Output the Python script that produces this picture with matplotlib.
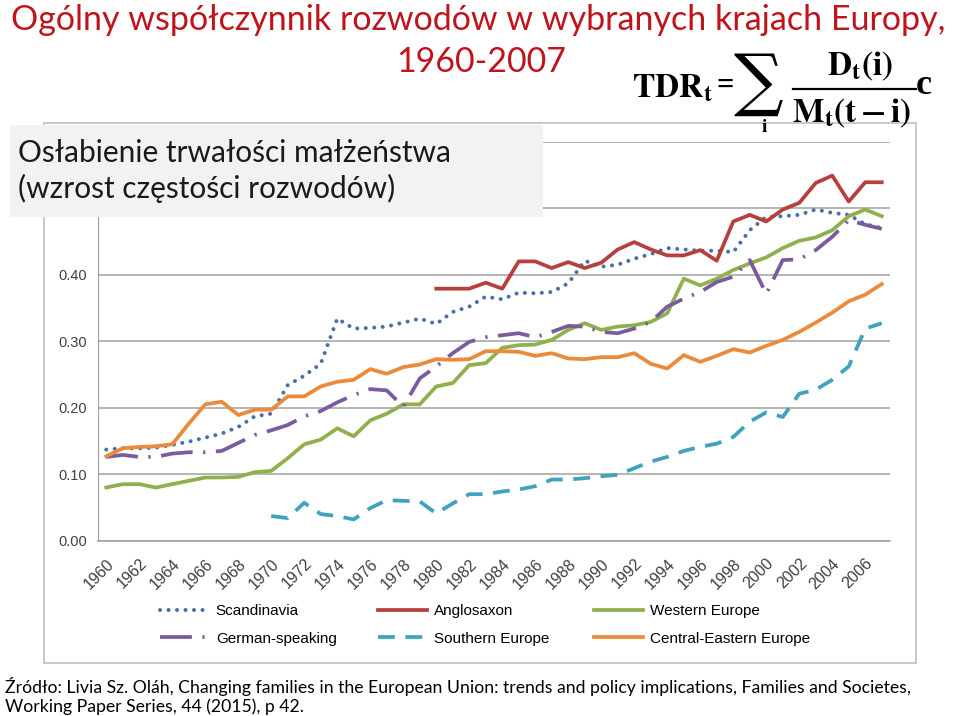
import numpy as np
import matplotlib
matplotlib.use('Agg')
import matplotlib.pyplot as plt
from matplotlib.patches import Rectangle
from matplotlib.lines import Line2D

nan = np.nan
years = list(range(1960, 2008))

scandinavia = [0.137, 0.139, 0.139, 0.140, 0.144, 0.149, 0.155, 0.161, 0.171, 0.187,
               0.191, 0.234, 0.248, 0.266, 0.334, 0.319, 0.320, 0.322, 0.328, 0.334,
               0.326, 0.344, 0.352, 0.367, 0.363, 0.373, 0.372, 0.374, 0.387, 0.421,
               0.412, 0.415, 0.424, 0.431, 0.440, 0.438, 0.436, 0.436, 0.434, 0.467,
               0.487, 0.488, 0.490, 0.498, 0.493, 0.490, 0.476, 0.470]
anglosaxon = [nan] * 20 + [
               0.379, 0.379, 0.379, 0.388, 0.379, 0.420, 0.420, 0.410, 0.419, 0.410,
               0.418, 0.438, 0.449, 0.438, 0.429, 0.429, 0.437, 0.421, 0.480, 0.490,
               0.480, 0.498, 0.508, 0.538, 0.549, 0.510, 0.539, 0.539]
western = [0.080, 0.085, 0.085, 0.080, 0.085, 0.090, 0.095, 0.095, 0.096, 0.103,
           0.105, 0.124, 0.145, 0.152, 0.169, 0.157, 0.181, 0.191, 0.205, 0.205,
           0.232, 0.237, 0.264, 0.267, 0.290, 0.294, 0.295, 0.302, 0.317, 0.327,
           0.317, 0.322, 0.324, 0.329, 0.342, 0.394, 0.384, 0.394, 0.407, 0.417,
           0.426, 0.440, 0.451, 0.456, 0.467, 0.488, 0.498, 0.488]
german = [0.126, 0.129, 0.126, 0.126, 0.131, 0.133, 0.133, 0.135, 0.147, 0.159,
          0.166, 0.174, 0.187, 0.195, 0.208, 0.219, 0.228, 0.226, 0.2015, 0.244,
          0.262, 0.282, 0.299, 0.306, 0.309, 0.312, 0.306, 0.314, 0.323, 0.322,
          0.314, 0.312, 0.319, 0.329, 0.352, 0.364, 0.374, 0.389, 0.397, 0.422,
          0.371, 0.422, 0.423, 0.437, 0.457, 0.482, 0.475, 0.469]
southern = [nan] * 10 + [
            0.037, 0.034, 0.057, 0.040, 0.037, 0.032, 0.049, 0.061, 0.060, 0.059,
            0.041, 0.056, 0.070, 0.070, 0.074, 0.077, 0.082, 0.092, 0.092, 0.094,
            0.097, 0.099, 0.109, 0.119, 0.126, 0.135, 0.141, 0.146, 0.156, 0.179,
            0.193, 0.186, 0.221, 0.227, 0.242, 0.262, 0.319, 0.327]
central_east = [0.127, 0.139, 0.141, 0.142, 0.145, 0.176, 0.205, 0.209, 0.189, 0.197,
                0.197, 0.217, 0.217, 0.232, 0.239, 0.242, 0.258, 0.251, 0.261, 0.265,
                0.273, 0.272, 0.273, 0.285, 0.285, 0.284, 0.278, 0.282, 0.274, 0.273,
                0.276, 0.276, 0.282, 0.266, 0.259, 0.279, 0.269, 0.278, 0.288, 0.283,
                0.293, 0.302, 0.314, 0.328, 0.343, 0.360, 0.370, 0.386]

yticks = [0.0, 0.1, 0.2, 0.3, 0.4, 0.5, 0.6]
# 0.50 and 0.60 labels sit under the grey text box in the original
ylabels = ['0.00', '0.10', '0.20', '0.30', '0.40', '', '']

title = 'Ogólny współczynnik rozwodów w wybranych krajach Europy,'
title2 = '1960-2007'
boxtext = 'Osłabienie trwałości małżeństwa\n(wzrost częstości rozwodów)'
source = ('Źródło: Livia Sz. Oláh, Changing families in the European Union: trends and policy implications, Families and Societes,\n'
          'Working Paper Series, 44 (2015), p 42.')

plt.rcParams['font.family'] = ['Liberation Sans', 'DejaVu Sans']
plt.rcParams['mathtext.fontset'] = 'stix'

fig = plt.figure(figsize=(9.6, 7.16), dpi=100)
W, H = 960, 716

def fx(px):
    return px / W

def fy(py):
    return 1 - py / H

# chart frame
fig.patches.append(Rectangle((fx(44), fy(663)), fx(916) - fx(44), fy(123) - fy(663),
                             transform=fig.transFigure, fill=False, edgecolor='#bfbfbf', lw=1.2))

ax = fig.add_axes([fx(98), fy(540.7), fx(890) - fx(98), fy(141.7) - fy(540.7)])
x = np.arange(len(years))

lw = 2.7
ax.plot(x, scandinavia, color='#4a6eab', lw=2.9, linestyle=(0, (0.01, 2.1)),
        dash_capstyle='round', label='Scandinavia')
ax.plot(x, anglosaxon, color='#b5403c', lw=lw, label='Anglosaxon')
ax.plot(x, western, color='#8fb04c', lw=lw, label='Western Europe')
ax.plot(x, german, color='#7b5b9e', lw=lw, linestyle=(0, (8.5, 2.8, 0.6, 2.8)),
        label='German-speaking')
ax.plot(x, southern, color='#3ea3bf', lw=lw, linestyle=(0, (4.5, 2.8)), label='Southern Europe')
ax.plot(x, central_east, color='#ec8a3c', lw=lw, label='Central-Eastern Europe')

ax.set_xlim(-0.5, len(years) - 0.5)
ax.set_ylim(0, 0.6)
ax.set_yticks(yticks)
ax.set_yticklabels(ylabels, fontsize=10.5, color='#404040')
ax.yaxis.grid(True, color='#a0a0a0', lw=1.1)
ax.set_axisbelow(True)
ax.set_xticks(x[::2])
ax.set_xticklabels([str(y) for y in years[::2]], rotation=45, ha='right',
                   rotation_mode='anchor', fontsize=11.5, color='#404040')
ax.tick_params(axis='x', length=0, pad=11)
ax.tick_params(axis='y', length=0, pad=8)
for s in ['top', 'right']:
    ax.spines[s].set_visible(False)
ax.spines['left'].set_color('#a0a0a0')
ax.spines['bottom'].set_color('#a0a0a0')
ax.spines['bottom'].set_linewidth(1.1)

# legend as three columns
hs, ls = ax.get_legend_handles_labels()
cols = [(0, 3), (1, 4), (2, 5)]
xs = [160, 378, 594]
for (a, b), px in zip(cols, xs):
    fig.legend([hs[a], hs[b]], [ls[a], ls[b]], loc='upper left',
               bbox_to_anchor=(fx(px), fy(604)), frameon=False, fontsize=11,
               handlelength=3.2, handletextpad=0.45, labelspacing=0.9,
               borderaxespad=0, borderpad=0)

# grey box with text
fig.patches.append(Rectangle((fx(10), fy(217)), fx(543) - fx(10), fy(125) - fy(217),
                             transform=fig.transFigure, facecolor='#f2f2f2', edgecolor='none',
                             zorder=5))
fig.text(fx(18), fy(171), boxtext, fontsize=21.5, family=['Lato', 'DejaVu Sans'],
         ha='left', va='center', linespacing=1.28, color='#1a1a1a', zorder=6)

fig.text(fx(478), fy(20), title, fontsize=24.5, family=['Lato', 'DejaVu Sans'],
         ha='center', va='center', color='#c0141c')
fig.text(fx(481), fy(62), title2, fontsize=24.5, family=['Lato', 'DejaVu Sans'],
         ha='center', va='center', color='#c0141c')

# formula TDR_t = sum_i D_t(i) / M_t(t-i) c
fig.text(fx(632), fy(88), r'$\mathbf{TDR_t}$', fontsize=24, ha='left', va='center')
fig.text(fx(716), fy(86), '=', fontsize=22, family='Liberation Serif', weight='bold',
         ha='left', va='center')
fig.text(fx(758), fy(84), '∑', fontsize=50, family='DejaVu Serif', ha='center', va='center')
fig.text(fx(764), fy(127), 'i', fontsize=14, family='Liberation Serif', weight='bold',
         ha='center', va='center')
fig.text(fx(860), fy(66), r'$\mathbf{D_t(i)}$', fontsize=24, ha='center', va='center')
fig.lines.append(Line2D([fx(793), fx(916)], [fy(89), fy(89)], transform=fig.transFigure,
                        color='black', lw=1.6))
fig.text(fx(852), fy(113), r'$\mathbf{M_t(t-i)}$', fontsize=24, ha='center', va='center')
fig.text(fx(916), fy(85), 'c', fontsize=26, family='Liberation Serif', weight='bold',
         ha='left', va='center')

fig.text(fx(5), fy(696), source, fontsize=12.7, family=['Lato', 'DejaVu Sans'],
         ha='left', va='center', linespacing=1.25, color='black')

fig.savefig('out.png', dpi=100)
